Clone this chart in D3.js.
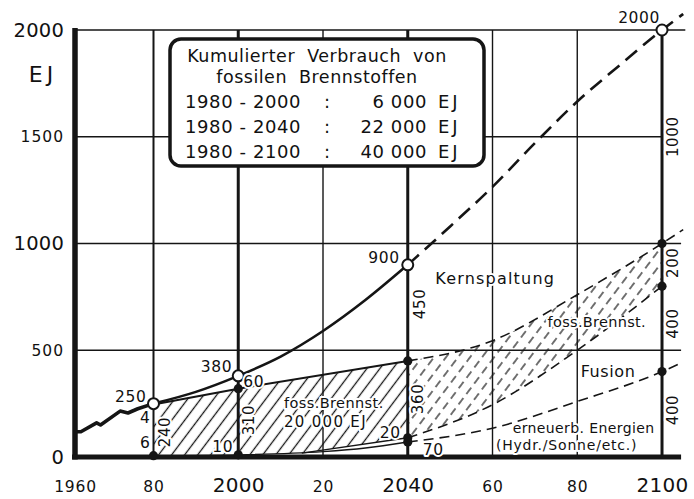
<!DOCTYPE html>
<html><head><meta charset="utf-8">
<script src="https://cdn.jsdelivr.net/npm/d3@7"></script>
<style>
html,body{margin:0;padding:0;background:#fff;}
svg{display:block;}
text{font-family:"DejaVu Sans",sans-serif;fill:#111;}
</style></head><body>
<svg id="chart" width="694" height="499"></svg>
<script>
// ---------- data ----------
const xTickValues = [1960, 1980, 2000, 2020, 2040, 2060, 2080, 2100];
const xTickLabels = ["1960", "80", "2000", "20", "2040", "60", "80", "2100"];
const yTickValues = [0, 500, 1000, 1500, 2000];
const yTickLabels = ["0", "500", "1000", "1500", "2000"];
const yUnit = "EJ";

// total primary energy (EJ): history, forecast solid, forecast dashed
const historyYears  = [1960, 1961.5, 1965.5, 1966.5, 1971.5, 1973.5, 1976, 1980];
const historyValues = [118, 118, 160, 150, 215, 206, 226, 250];
const totalYears    = [1980, 1990, 2000, 2010, 2020, 2030, 2040];
const totalValues   = [250, 305, 380, 470, 590, 735, 900];
const totalProjYears  = [2040, 2050, 2060, 2070, 2080, 2090, 2100, 2105];
const totalProjValues = [900, 1080, 1265, 1470, 1665, 1835, 2000, 2075];

// upper edge of fossil fuels (cumulative)
const fossilYears  = [1980, 2000, 2040];
const fossilValues = [246, 320, 450];
const fossilProjYears  = [2040, 2060, 2080, 2100, 2105];
const fossilProjValues = [450, 545, 760, 1000, 1065];

// upper edge of renewables
const renewYears  = [1980, 2000, 2020, 2030, 2040];
const renewValues = [6, 10, 25, 42, 70];
const renewProjYears  = [2040, 2060, 2080, 2100, 2105];
const renewProjValues = [70, 135, 260, 400, 445];

// upper edge of fusion (cumulative on renewables)
const fusionYears  = [2015, 2040];
const fusionValues = [18, 90];
const fusionProjYears  = [2040, 2060, 2080, 2100];
const fusionProjValues = [90, 245, 500, 800];

// hatched fossil band lower edge 1980-2040
const fossilBaseYears  = [1980, 2000, 2015, 2040];
const fossilBaseValues = [6, 10, 18, 90];

// marked points
const openYears  = [1980, 2000, 2040, 2100];
const openValues = [250, 380, 900, 2000];
const dotYears  = [1980, 2000, 2000, 2040, 2040, 2040, 2100, 2100, 2100];
const dotValues = [6, 10, 320, 450, 90, 70, 1000, 800, 400];

// legend box content
const legendTitle = ["Kumulierter Verbrauch von", "fossilen Brennstoffen"];
const legendPeriods = ["1980 - 2000", "1980 - 2040", "1980 - 2100"];
const legendAmounts = ["6 000", "22 000", "40 000"];

// ---------- scales ----------
const svg = d3.select("#chart");
const x = d3.scaleLinear().domain([1960, 1980, 2105]).range([75, 153.5, 683.2]);
const y = d3.scaleLinear().domain([0, 2000]).range([457, 30]);
const ink = "#151515";

svg.append("rect").attr("width", 694).attr("height", 499).attr("fill", "#fff");

// ---------- patterns ----------
const defs = svg.append("defs");
const ph = defs.append("pattern").attr("id", "hatch").attr("patternUnits", "userSpaceOnUse")
  .attr("width", 10.4).attr("height", 20).attr("patternTransform", "rotate(37)");
ph.append("line").attr("x1", 5.2).attr("x2", 5.2).attr("y1", 0).attr("y2", 20)
  .attr("stroke", ink).attr("stroke-width", 1.3);
const pd = defs.append("pattern").attr("id", "hatchDash").attr("patternUnits", "userSpaceOnUse")
  .attr("width", 9.6).attr("height", 13).attr("patternTransform", "rotate(37)");
pd.append("line").attr("x1", 4.8).attr("x2", 4.8).attr("y1", 0).attr("y2", 8)
  .attr("stroke", ink).attr("stroke-width", 1.2);

// ---------- grid ----------
const grid = svg.append("g");
[500, 1000].forEach(v => grid.append("line").attr("x1", x(1960)).attr("x2", x(2104.5))
  .attr("y1", y(v)).attr("y2", y(v)).attr("stroke", ink).attr("stroke-width", 1.4));
grid.append("line").attr("x1", x(1960)).attr("x2", x(2100)).attr("y1", y(1500)).attr("y2", y(1500))
  .attr("stroke", ink).attr("stroke-width", 1.4);
grid.append("line").attr("x1", x(1960)).attr("x2", x(2105.5)).attr("y1", y(2000)).attr("y2", y(2000))
  .attr("stroke", ink).attr("stroke-width", 1.6);
xTickValues.slice(1).forEach(v => {
  const thick = (v === 2000 || v === 2040 || v === 2100);
  grid.append("line").attr("x1", x(v)).attr("x2", x(v)).attr("y1", y(2000)).attr("y2", y(0))
    .attr("stroke", ink).attr("stroke-width", thick ? 3 : (v === 1980 ? 2 : 1.4));
});

// ---------- hatched areas ----------
const pts = (xs, vs) => xs.map((d, i) => [d, vs[i]]);
const lineLin = d3.line().x(d => x(d[0])).y(d => y(d[1]));
const lineMono = d3.line().x(d => x(d[0])).y(d => y(d[1])).curve(d3.curveMonotoneX);

const band1 = pts(fossilYears, fossilValues).concat(pts(fossilBaseYears, fossilBaseValues).reverse());
svg.append("path").attr("d", lineLin(band1) + "Z").attr("fill", "url(#hatch)");

const band2 = fossilProjYears.filter(d => d <= 2100).map((d, i) => ({yr: d, hi: fossilProjValues[i], lo: fusionProjValues[i]}));
svg.append("path").attr("d", d3.area().x(d => x(d.yr)).y0(d => y(d.lo)).y1(d => y(d.hi)).curve(d3.curveMonotoneX)(band2))
  .attr("fill", "url(#hatchDash)");

// ---------- lines ----------
const lines = svg.append("g").attr("fill", "none").attr("stroke", ink).attr("stroke-linecap", "butt");
lines.append("path").attr("d", lineLin(pts(historyYears, historyValues))).attr("stroke-width", 3.6).attr("stroke-linejoin", "round");
lines.append("path").attr("d", lineMono(pts(totalYears, totalValues))).attr("stroke-width", 2.6);
lines.append("path").attr("d", lineMono(pts(totalProjYears, totalProjValues))).attr("stroke-width", 2.6).attr("stroke-dasharray", "15,8");
lines.append("path").attr("d", lineLin(pts(fossilYears, fossilValues))).attr("stroke-width", 2);
lines.append("path").attr("d", lineMono(pts(fossilProjYears, fossilProjValues))).attr("stroke-width", 1.6).attr("stroke-dasharray", "10,6");
lines.append("path").attr("d", lineMono(pts(renewYears, renewValues))).attr("stroke-width", 1.4);
lines.append("path").attr("d", lineMono(pts(renewProjYears, renewProjValues))).attr("stroke-width", 1.6).attr("stroke-dasharray", "10,6");
lines.append("path").attr("d", lineLin(pts(fusionYears, fusionValues))).attr("stroke-width", 1.4);
lines.append("path").attr("d", lineMono(pts(fusionProjYears, fusionProjValues))).attr("stroke-width", 1.6).attr("stroke-dasharray", "10,6");

// ---------- axes ----------
svg.append("line").attr("x1", x(1960)).attr("x2", x(1960)).attr("y1", y(2000) - 2).attr("y2", y(0) + 2.5)
  .attr("stroke", ink).attr("stroke-width", 5.5);
svg.append("line").attr("x1", x(1960) - 3).attr("x2", x(2104.5)).attr("y1", y(0)).attr("y2", y(0))
  .attr("stroke", ink).attr("stroke-width", 5);

const gx = svg.append("g").attr("transform", `translate(0,${y(0)})`)
  .call(d3.axisBottom(x).tickValues(xTickValues).tickFormat((d, i) => xTickLabels[i]).tickSize(0));
gx.select(".domain").remove();
gx.attr("font-family", null).attr("font-size", null);
gx.selectAll("text").attr("dy", null).attr("y", 35).attr("fill", ink)
  .attr("font-size", (d, i) => xTickLabels[i].length === 4 && d !== 1960 ? 20 : 15.5)
  .attr("letter-spacing", (d, i) => xTickLabels[i].length === 4 && d !== 1960 ? 0.3 : 0.8);

const gy = svg.append("g").attr("transform", `translate(${x(1960)},0)`)
  .call(d3.axisLeft(y).tickValues(yTickValues).tickFormat((d, i) => yTickLabels[i]).tickSize(0).tickPadding(11));
gy.select(".domain").remove();
gy.attr("font-family", null).attr("font-size", null);
gy.selectAll("text").attr("fill", ink)
  .attr("font-size", d => (d % 1000 === 0) ? 19.5 : 15.5)
  .attr("letter-spacing", d => (d % 1000 === 0) ? 0.2 : 1);
svg.append("text").attr("x", 43).attr("y", y(1755)).attr("text-anchor", "middle")
  .attr("font-size", 22).attr("letter-spacing", 4).text(yUnit);

// ---------- markers ----------
svg.append("g").selectAll("circle").data(pts(dotYears, dotValues)).join("circle")
  .attr("cx", d => x(d[0])).attr("cy", d => y(d[1])).attr("r", 4.6).attr("fill", ink);
svg.append("g").selectAll("circle").data(pts(openYears, openValues)).join("circle")
  .attr("cx", d => x(d[0])).attr("cy", d => y(d[1])).attr("r", 5.5)
  .attr("fill", "#fff").attr("stroke", ink).attr("stroke-width", 2);

// ---------- annotations ----------
// [text, year, value, dx, dy, anchor, size, rotated, letterSpacing]
const notes = [
  ["250", 1980, 250, -7, -2, "end", 15.5, false, 0.6],
  ["380", 2000, 380, -6, -4, "end", 15.5, false, 0.6],
  ["900", 2040, 900, -8, -2, "end", 15.5, false, 0.6],
  ["2000", 2100, 2000, -2, -7, "end", 15.5, false, 0.6],
  ["60", 2000, 380, 5, 11, "start", 15.5, false, 0.6],
  ["4", 1980, 160, -3, 0, "end", 15.5, false, 0.6],
  ["6", 1980, 40, -3, 0, "end", 15.5, false, 0.6],
  ["10", 2000, 10, -5, -3, "end", 15.5, false, 0.6],
  ["20", 2040, 90, -7, 0, "end", 15.5, false, 0.6],
  ["70", 2040, 10, 15, 0, "start", 15.5, false, 0.6],
  ["240", 1980, 117, 11.5, 0, "middle", 15, true, 0.6],
  ["310", 2000, 173, 10, 0, "middle", 15, true, 0.6],
  ["450", 2040, 717, 12, 0, "middle", 15, true, 0.6],
  ["360", 2040, 272, 10, 0, "middle", 15, true, 0.6],
  ["1000", 2100, 1500, 11, 0, "middle", 15, true, 0.6],
  ["200", 2100, 910, 10.5, 0, "middle", 15, true, 0.6],
  ["400", 2100, 625, 10.5, 0, "middle", 15, true, 0.6],
  ["400", 2100, 220, 10.5, 0, "middle", 15, true, 0.6],
  ["Kernspaltung", 2046.5, 810, 0, 0, "start", 16, false, 1.2],
  ["foss.Brennst.", 2073, 610, 0, 0, "start", 14.5, false, 0.3],
  ["Fusion", 2080.8, 375, 0, 0, "start", 16, false, 0.6],
  ["erneuerb. Energien", 2081.5, 112, 0, 0, "middle", 14, false, 0.4],
  ["(Hydr./Sonne/etc.)", 2077.5, 33, 0, 0, "middle", 14, false, 0.8],
  ["foss.Brennst.", 2010.8, 230, 0, 0, "start", 14.5, false, 0.4],
  ["20 000 EJ", 2010.8, 140, 0, 0, "start", 15, false, 1.3]
];
const gn = svg.append("g");
notes.forEach(n => {
  const [t, yr, v, dx, dy, anchor, size, rot, ls] = n;
  const px = x(yr) + dx, py = y(v) + dy;
  const el = gn.append("text").attr("text-anchor", anchor).attr("font-size", size)
    .attr("letter-spacing", ls)
    .attr("stroke", "#fff").attr("stroke-width", 4).attr("paint-order", "stroke").attr("stroke-linejoin", "round")
    .text(t);
  if (rot) {
    el.attr("transform", `translate(${px},${py}) rotate(-90)`).attr("dy", "0.36em");
  } else {
    el.attr("x", px).attr("y", py);
  }
});

// ---------- legend box ----------
const lg = svg.append("g");
lg.append("rect").attr("x", 170).attr("y", 39).attr("width", 314).attr("height", 127).attr("rx", 11)
  .attr("fill", "#fff").attr("stroke", ink).attr("stroke-width", 3.5);
legendTitle.forEach((t, i) => lg.append("text").attr("x", 317).attr("y", 62 + i * 21)
  .attr("text-anchor", "middle").attr("font-size", 17.5).attr("letter-spacing", 0.5).attr("word-spacing", 6).text(t));
legendPeriods.forEach((t, i) => {
  const by = 108 + i * 24.8;
  lg.append("text").attr("x", 185).attr("y", by).attr("font-size", 18).attr("letter-spacing", 0.6).text(t);
  lg.append("text").attr("x", 327).attr("y", by).attr("text-anchor", "middle").attr("font-size", 18).text(":");
  lg.append("text").attr("x", 427).attr("y", by).attr("text-anchor", "end").attr("font-size", 18).attr("letter-spacing", 0.6).text(legendAmounts[i]);
  lg.append("text").attr("x", 438).attr("y", by).attr("font-size", 18).attr("letter-spacing", 3).text("EJ");
});
</script>
</body></html>
